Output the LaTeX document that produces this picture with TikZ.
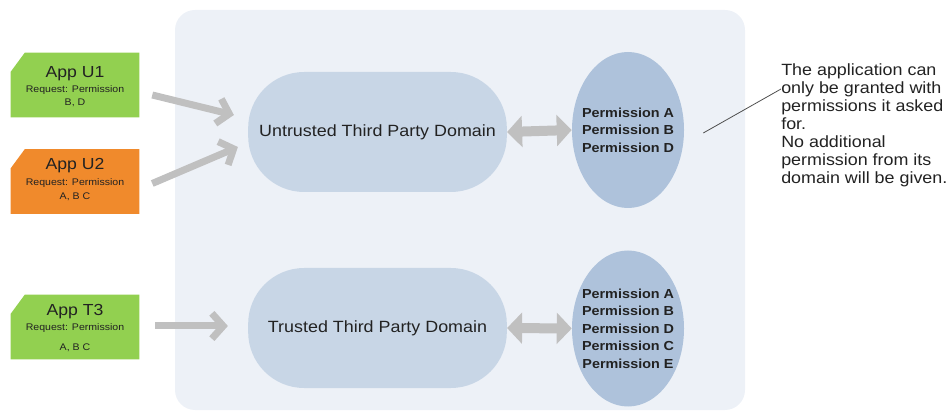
\documentclass[tikz,border=0pt]{standalone}
\usepackage{fontspec}
\setmainfont{Liberation Sans}[FakeStretch=1.1]
\usetikzlibrary{arrows.meta,shapes.geometric,calc}
\definecolor{bgc}{HTML}{EDF1F7}
\definecolor{domc}{HTML}{C8D6E6}
\definecolor{ellc}{HTML}{AEC2DB}
\definecolor{appgreen}{HTML}{92D050}
\definecolor{apporange}{HTML}{F08A2C}
\definecolor{arrc}{HTML}{C0C0C0}
\definecolor{txt}{HTML}{222222}
\tikzset{
  appbox/.style={rectangle, minimum width=96pt, minimum height=48pt,
    inner sep=0pt, draw=none},
  apptitle/.style={inner sep=0pt, text=txt, text height=8.6pt, text depth=0pt,
    font=\fontsize{12}{14}\selectfont},
  appsmall/.style={inner sep=0pt, text=txt, text height=5.2pt, text depth=0pt,
    font=\fontsize{7.2}{8}\selectfont},
  dombox/.style={rectangle, rounded corners=42pt, fill=domc, draw=none,
    minimum width=194pt, minimum height=90pt, inner sep=0pt, text=txt,
    font=\fontsize{12.2}{14}\selectfont},
  permell/.style={ellipse, fill=ellc, draw=none, minimum width=84pt,
    minimum height=117pt, inner sep=0pt},
  permtext/.style={align=center, inner sep=0pt, text=txt,
    font=\bfseries\fontsize{9.8}{13.1}\selectfont},
  inarrow/.style={draw=arrc, line width=5.25pt,
    -{Straight Barb[length=8.5pt,width=19pt]}},
  dblarrow/.style={draw=arrc, line width=7.5pt,
    {Triangle[length=11.25pt,width=23pt]}-{Triangle[length=11.25pt,width=23pt]}},
}
\newcommand{\appshape}[2]{\fill[#2] ($(#1.north west)+(0,19)$) -- ($(#1.north west)+(14,0)$) -- (#1.north east) -- (#1.south east) -- (#1.south west) -- cycle;}
\begin{document}
\begin{tikzpicture}[x=0.75pt,y=-0.75pt]
\useasboundingbox (0,0) rectangle (949,416);
\fill[bgc, rounded corners=15pt] (175,10) rectangle (745,410);

\node[appbox] (u1) at (75,85) {};
\node[appbox] (u2) at (75,181.5) {};
\node[appbox] (t3) at (75,327) {};
\appshape{u1}{appgreen}
\appshape{u2}{apporange}
\appshape{t3}{appgreen}
\node[apptitle] (u1a) at ($(u1)+(0,-13)$) {App U1};
\node[appsmall] (u1b) at ($(u1)+(0,4.3)$) {Request: Permission};
\node[appsmall] (u1c) at ($(u1)+(0,16.7)$) {B, D};
\node[apptitle] (u2a) at ($(u2)+(0,-17.5)$) {App U2};
\node[appsmall] (u2b) at ($(u2)+(0,0.2)$) {Request: Permission};
\node[appsmall] (u2c) at ($(u2)+(0,14.5)$) {A, B C};
\node[apptitle] (t3a) at ($(t3)+(0,-17.7)$) {App T3};
\node[appsmall] (t3b) at ($(t3)+(0,-0.3)$) {Request: Permission};
\node[appsmall] (t3c) at ($(t3)+(0,19.7)$) {A, B C};

\node[dombox] (d1) at (377.5,132) {Untrusted Third Party Domain};
\node[dombox] (d2) at (377.5,328) {Trusted Third Party Domain};

\node[permell] (e1) at (628,130) {};
\node[permtext] (p1) at (e1) {Permission A\\Permission B\\Permission D};
\node[permell] (e2) at (628,328.5) {};
\node[permtext] (p2) at (e2) {Permission A\\Permission B\\Permission D\\Permission C\\Permission E};

\draw[inarrow] ($(u1.east)+(13,10)$) -- ($(d1.west)+(-14,-17)$);
\draw[inarrow] ($(u2.east)+(13,2)$) -- ($(d1.west)+(-10,15)$);
\draw[inarrow] ($(t3.east)+(16,-1)$) -- ($(d2.west)+(-20,-2)$);

\draw[dblarrow] (d1.east) -- (e1.west);
\draw[dblarrow] (d2.east) -- (e2.west);

\node[anchor=north west, align=left, inner sep=0pt, text=txt,
  font=\fontsize{12.2}{13.5}\selectfont] (note) at (781,63)
  {The application can\\only be granted with\\permissions it asked\\for.\\No additional\\permission from its\\domain will be given.};
\draw[line width=0.6pt, draw=txt!80] ($(e1.east)+(19,3)$) -- ($(note.north west)+(0,26)$);
\end{tikzpicture}
\end{document}
